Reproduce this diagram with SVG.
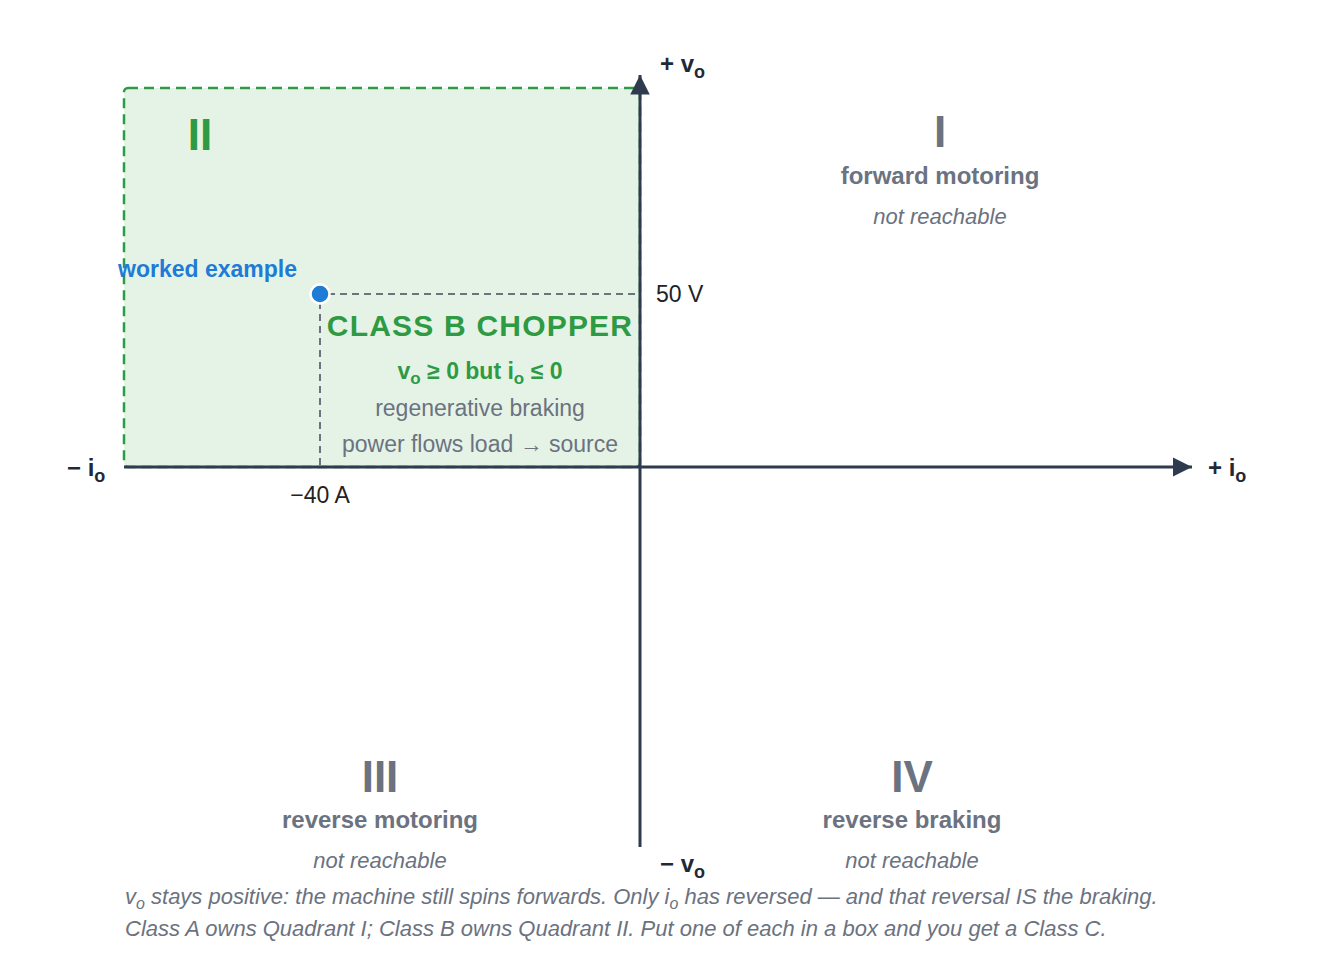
<svg xmlns="http://www.w3.org/2000/svg" width="1320" height="972" viewBox="0 0 1320 972">
<style>
text{font-family:"Liberation Sans",Arial,sans-serif}
.axis{stroke:#2e3b4e;stroke-width:3;fill:none}
.axl{font-size:24px;font-weight:bold;fill:#1f2937}
.qnum{font-size:44px;font-weight:bold;fill:#6b7280;text-anchor:middle}
.qname{font-size:24px;font-weight:bold;fill:#6b7280;text-anchor:middle}
.qnr{font-size:22px;font-style:italic;fill:#6b7280;text-anchor:middle}
.guide{stroke:#6b7280;stroke-width:2;stroke-dasharray:7 5;fill:none}
.val{font-size:23px;fill:#222}
.cap{font-size:22px;font-style:italic;fill:#6b7280}
</style>
<defs>
<marker id="ah" viewBox="0 0 10 10" refX="10" refY="5" markerWidth="6.5" markerHeight="6.5" orient="auto" markerUnits="strokeWidth">
<path d="M0,0 L10,5 L0,10 z" fill="#2e3b4e"/>
</marker>
</defs>
<rect width="1320" height="972" fill="#ffffff"/>

<g id="quadrant-II">
<rect x="124" y="88" width="516" height="379" rx="4" fill="#e5f3e6" stroke="#2e9a44" stroke-width="2.5" stroke-dasharray="10 6"/>
<text x="200" y="150" class="qnum" style="fill:#2e9a44">II</text>
</g>

<g id="connectors">
<line class="axis" x1="640" y1="847" x2="640" y2="75" marker-end="url(#ah)"/>
<line class="axis" x1="124" y1="467" x2="1192" y2="467" marker-end="url(#ah)"/>
<line class="guide" x1="328" y1="294" x2="637" y2="294"/>
<line class="guide" x1="320" y1="302" x2="320" y2="466"/>
</g>

<g id="axis-labels">
<text x="660" y="72" class="axl">+ v<tspan dy="6" font-size="18">o</tspan></text>
<text x="660" y="872" class="axl">− v<tspan dy="6" font-size="18">o</tspan></text>
<text x="67" y="476" class="axl">− i<tspan dy="6" font-size="18">o</tspan></text>
<text x="1208" y="476" class="axl">+ i<tspan dy="6" font-size="18">o</tspan></text>
</g>

<g id="quadrant-I">
<text x="940" y="147" class="qnum">I</text>
<text x="940" y="184" class="qname">forward motoring</text>
<text x="940" y="224" class="qnr">not reachable</text>
</g>

<g id="quadrant-III">
<text x="380" y="792" class="qnum">III</text>
<text x="380" y="828" class="qname">reverse motoring</text>
<text x="380" y="868" class="qnr">not reachable</text>
</g>

<g id="quadrant-IV">
<text x="912" y="792" class="qnum">IV</text>
<text x="912" y="828" class="qname">reverse braking</text>
<text x="912" y="868" class="qnr">not reachable</text>
</g>

<g id="class-b-label">
<text x="480" y="336" text-anchor="middle" font-size="30" font-weight="bold" letter-spacing="1.2" fill="#2e9a44">CLASS B CHOPPER</text>
<text x="480" y="379" text-anchor="middle" font-size="23" font-weight="bold" fill="#2e9a44">v<tspan dy="5" font-size="17">o</tspan><tspan dy="-5"> ≥ 0 but i</tspan><tspan dy="5" font-size="17">o</tspan><tspan dy="-5"> ≤ 0</tspan></text>
<text x="480" y="416" text-anchor="middle" font-size="23" fill="#6b7280">regenerative braking</text>
<text x="480" y="452" text-anchor="middle" font-size="23" fill="#6b7280">power flows load → source</text>
</g>

<g id="worked-example">
<circle cx="320" cy="294" r="9.5" fill="#1e7bd6" stroke="#ffffff" stroke-width="2.5"/>
<text x="118" y="277" font-size="23" font-weight="bold" fill="#1e7bd6">worked example</text>
<text x="656" y="302" class="val">50 V</text>
<text x="320" y="503" class="val" text-anchor="middle">−40 A</text>
</g>

<g id="caption">
<text x="125" y="904" class="cap">v<tspan dy="5" font-size="16">o</tspan><tspan dy="-5"> stays positive: the machine still spins forwards. Only i</tspan><tspan dy="5" font-size="16">o</tspan><tspan dy="-5"> has reversed — and that reversal IS the braking.</tspan></text>
<text x="125" y="936" class="cap">Class A owns Quadrant I; Class B owns Quadrant II. Put one of each in a box and you get a Class C.</text>
</g>
</svg>
